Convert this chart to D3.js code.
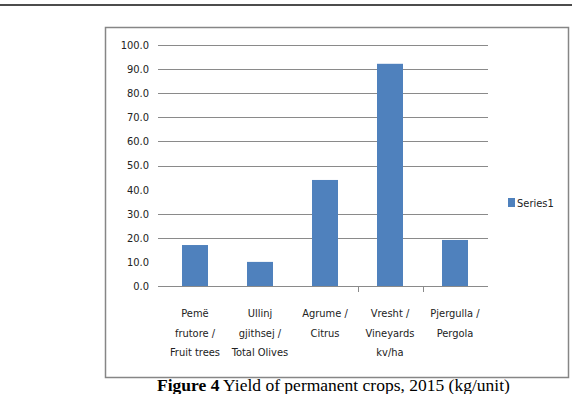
<!DOCTYPE html>
<html><head><meta charset="utf-8">
<script src="https://cdn.jsdelivr.net/npm/d3@7"></script>
<style>
html,body{margin:0;padding:0;background:#fff;overflow:hidden;}
svg{display:block;}
</style></head>
<body>
<script>
const categories = [
  ["Pemë", "frutore /", "Fruit trees"],
  ["Ullinj", "gjithsej /", "Total  Olives"],
  ["Agrume /", "Citrus"],
  ["Vresht /", "Vineyards", "kv/ha"],
  ["Pjergulla /", "Pergola"]
];
const seriesName = "Series1";
const values = [17.0, 10.0, 44.0, 92.2, 19.1];
const yTicks = [0, 10, 20, 30, 40, 50, 60, 70, 80, 90, 100];
const gridValues = [0, 20, 30, 50, 60, 70, 80, 90, 100];
const tickBoundaries = [3, 4];
const captionBold = "Figure 4";
const captionText = " Yield of permanent crops, 2015 (kg/unit)";

const W = 579, H = 394;
const svg = d3.select("body").append("svg").attr("width", W).attr("height", H);
const font = "'DejaVu Sans Condensed', 'DejaVu Sans', sans-serif";

// header rule
svg.append("line").attr("x1", 0).attr("x2", 572).attr("y1", 5).attr("y2", 5)
  .attr("stroke", "#111").attr("stroke-width", 1.5);

// chart frame
svg.append("rect").attr("x", 105.5).attr("y", 27.5).attr("width", 463).attr("height", 350)
  .attr("fill", "#fff").attr("stroke", "#868686").attr("stroke-width", 1.5);

const xOuter = d3.scaleBand().domain(d3.range(categories.length)).range([162.5, 487.5]);
const y = d3.scaleLinear().domain([0, 100]).range([286, 45]);

// gridlines
svg.append("g").selectAll("line").data(gridValues).join("line")
  .attr("x1", 158).attr("x2", 488)
  .attr("y1", d => Math.round(y(d)) + 0.5).attr("y2", d => Math.round(y(d)) + 0.5)
  .attr("stroke", "#8a8a8a").attr("stroke-width", 1);

// y labels
svg.append("g").selectAll("text").data(yTicks).join("text")
  .attr("x", 149).attr("y", d => y(d)).attr("dy", "0.36em")
  .attr("text-anchor", "end").attr("font-family", font).attr("font-size", 11)
  .attr("fill", "#222").text(d => d.toFixed(1));

// bars
svg.append("g").selectAll("rect").data(values).join("rect")
  .attr("x", (d, i) => xOuter(i) + xOuter.bandwidth() / 2 - 13)
  .attr("width", 26)
  .attr("y", d => y(d)).attr("height", d => y(0) - y(d))
  .attr("fill", "#4f81bd");

// category tick marks
svg.append("g").selectAll("line").data(tickBoundaries).join("line")
  .attr("x1", d => Math.round(xOuter(d)) + 0.5).attr("x2", d => Math.round(xOuter(d)) + 0.5)
  .attr("y1", 286).attr("y2", 292)
  .attr("stroke", "#8a8a8a").attr("stroke-width", 1);

// category labels
const lab = svg.append("g").selectAll("text").data(categories).join("text")
  .attr("text-anchor", "middle").attr("font-family", font).attr("font-size", 11).attr("fill", "#222");
lab.selectAll("tspan").data((d, i) => d.map(t => ({t, i}))).join("tspan")
  .attr("x", d => xOuter(d.i) + xOuter.bandwidth() / 2)
  .attr("y", (d, j) => 317 + j * 19.5)
  .text(d => d.t);

// legend
svg.append("rect").attr("x", 508).attr("y", 198).attr("width", 7).attr("height", 9).attr("fill", "#4f81bd");
svg.append("text").attr("x", 517).attr("y", 203).attr("dy", "0.36em")
  .attr("font-family", font).attr("font-size", 11).attr("fill", "#222").text(seriesName);

// caption
const cap = svg.append("text").attr("x", 157).attr("y", 391)
  .attr("font-family", "'Liberation Serif', 'Times New Roman', serif").attr("font-size", 17.5).attr("fill", "#000");
cap.append("tspan").attr("font-weight", "bold").text(captionBold);
cap.append("tspan").text(captionText);
</script>
</body></html>
